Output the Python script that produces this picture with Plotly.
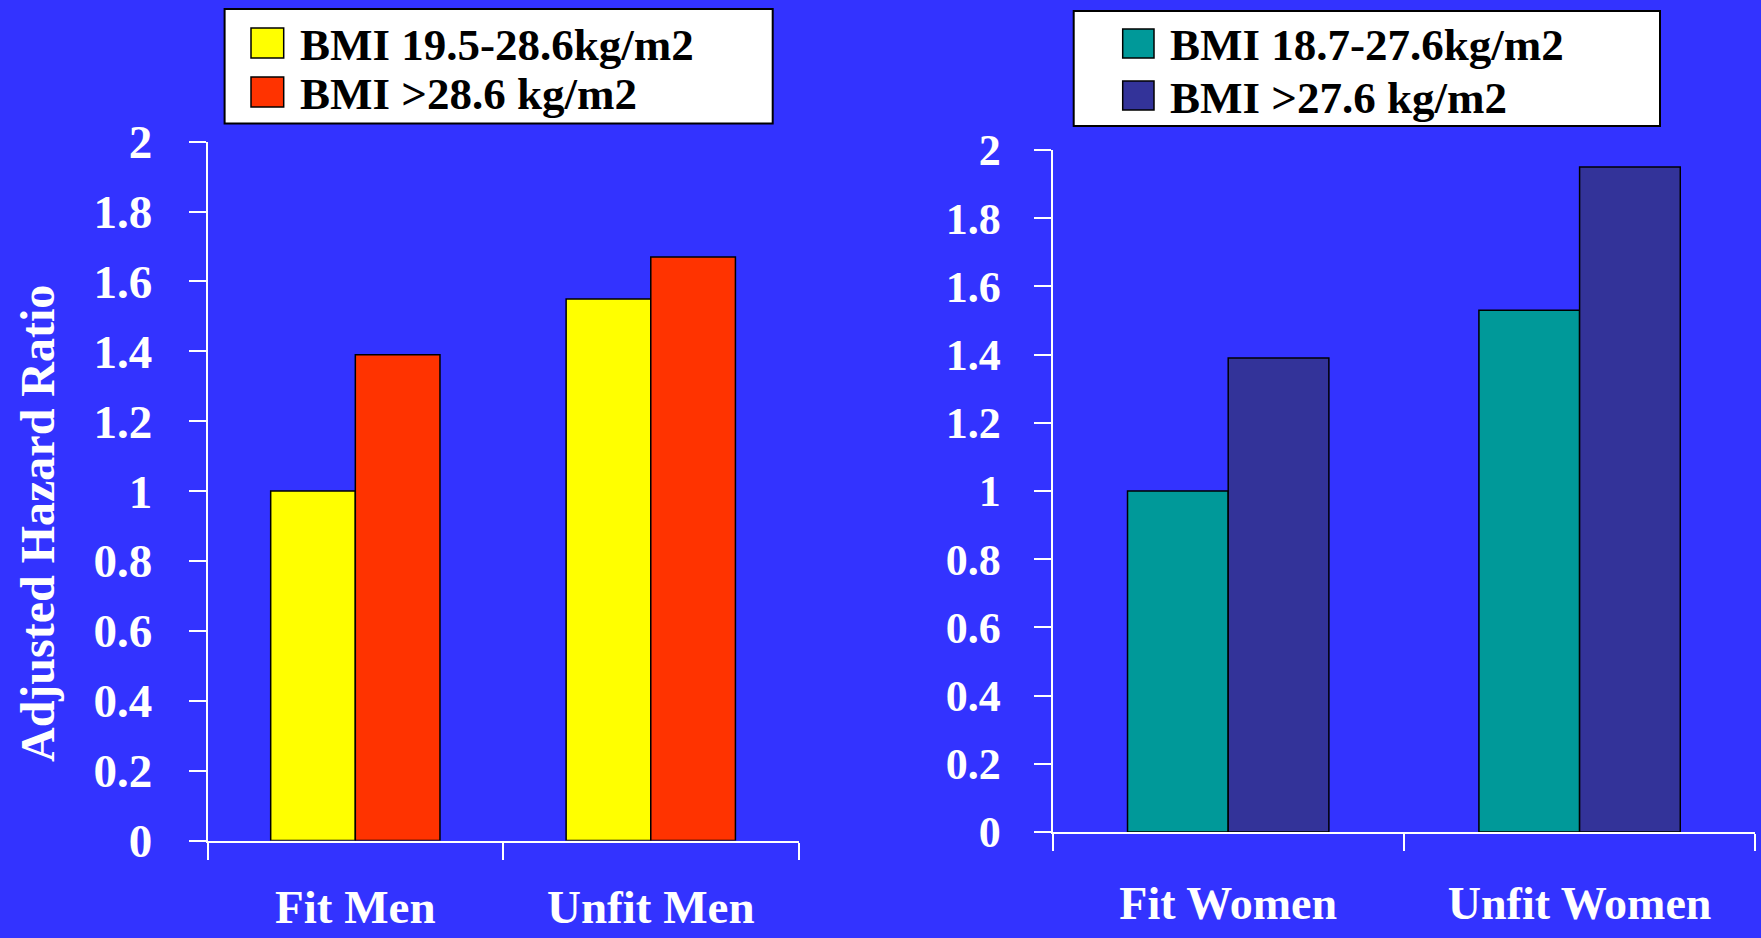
import plotly.graph_objects as go

# ---------------- data ----------------
men_categories = ["Fit Men", "Unfit Men"]
women_categories = ["Fit Women", "Unfit Women"]

men_series_names = ["BMI 19.5-28.6kg/m2", "BMI >28.6 kg/m2"]
women_series_names = ["BMI 18.7-27.6kg/m2", "BMI >27.6 kg/m2"]

men_normal_bmi = [1.00, 1.55]
men_high_bmi = [1.39, 1.67]
women_normal_bmi = [1.00, 1.53]
women_high_bmi = [1.39, 1.95]

y_tick_values = [0, 0.2, 0.4, 0.6, 0.8, 1.0, 1.2, 1.4, 1.6, 1.8, 2.0]
y_tick_labels = ["0", "0.2", "0.4", "0.6", "0.8", "1", "1.2", "1.4", "1.6", "1.8", "2"]
y_axis_title = "Adjusted Hazard Ratio"

# ---------------- styling ----------------
W, H = 1761, 938
BG = "#3333FF"
COL_MEN = ["#FFFF00", "#FF3300"]
COL_WOMEN = ["#009999", "#333399"]
FONT = "Liberation Serif, Times New Roman, serif"


def px(x):
    return x / W


def py(y):
    return 1 - y / H


def tfont(size):
    return dict(family=FONT, size=size, color="white", weight="bold")


fig = go.Figure()

for vals, name, col in zip([men_normal_bmi, men_high_bmi], men_series_names, COL_MEN):
    fig.add_trace(go.Bar(x=men_categories, y=vals, name=name, xaxis="x", yaxis="y",
                         marker=dict(color=col, line=dict(color="black", width=1.5)),
                         showlegend=False))
for vals, name, col in zip([women_normal_bmi, women_high_bmi], women_series_names, COL_WOMEN):
    fig.add_trace(go.Bar(x=women_categories, y=vals, name=name, xaxis="x2", yaxis="y2",
                         marker=dict(color=col, line=dict(color="black", width=1.5)),
                         showlegend=False))

xaxis_common = dict(showline=True, linecolor="white", linewidth=2, ticks="outside",
                    tickson="boundaries", ticklen=17, tickwidth=2, tickcolor="white",
                    showgrid=False, zeroline=False, automargin=False, fixedrange=True)
yaxis_common = dict(range=[0, 2], tickvals=y_tick_values, ticktext=y_tick_labels,
                    showline=True, linecolor="white", linewidth=2, ticks="outside",
                    ticklen=17, tickwidth=2, tickcolor="white",
                    showgrid=False, zeroline=False, automargin=False, fixedrange=True)

fig.update_layout(
    width=W, height=H,
    margin=dict(l=0, r=0, t=0, b=0, autoexpand=False),
    paper_bgcolor=BG, plot_bgcolor=BG,
    barmode="group", bargap=0.427, bargroupgap=0,
    xaxis=dict(domain=[px(207.6), px(798.5)], anchor="y", tickfont=tfont(47),
               ticklabelstandoff=24, **xaxis_common),
    yaxis=dict(domain=[py(840.5), py(141.7)], anchor="x", tickfont=tfont(47),
               ticklabelstandoff=27, **yaxis_common),
    xaxis2=dict(domain=[px(1052.5), px(1755.3)], anchor="y2", tickfont=tfont(46),
                ticklabelstandoff=30, **xaxis_common),
    yaxis2=dict(domain=[py(832), py(150)], anchor="x2", tickfont=tfont(44),
                ticklabelstandoff=24, **yaxis_common),
    showlegend=False,
)

shapes = []
annotations = []

# y-axis title
annotations.append(dict(text=y_axis_title, xref="paper", yref="paper", x=px(37), y=py(524),
                        textangle=-90, showarrow=False, xanchor="center", yanchor="middle",
                        font=dict(family=FONT, size=48, color="white", weight="bold")))

# legend boxes (drawn manually)
legends = [
    dict(box=(224.6, 9, 772.7, 123.5), mx=(251, 283.7), rows=[(28, 58), (77, 107)],
         tx=297.8, names=men_series_names, cols=COL_MEN),
    dict(box=(1073.7, 11, 1660, 126), mx=(1122.7, 1154), rows=[(29, 58), (81, 110)],
         tx=1167.6, names=women_series_names, cols=COL_WOMEN),
]
for lg in legends:
    x0, y0, x1, y1 = lg["box"]
    shapes.append(dict(type="rect", xref="paper", yref="paper", x0=px(x0), x1=px(x1),
                       y0=py(y1), y1=py(y0), fillcolor="white",
                       line=dict(color="black", width=2)))
    for (ry0, ry1), name, col in zip(lg["rows"], lg["names"], lg["cols"]):
        shapes.append(dict(type="rect", xref="paper", yref="paper",
                           x0=px(lg["mx"][0]), x1=px(lg["mx"][1]), y0=py(ry1), y1=py(ry0),
                           fillcolor=col, line=dict(color="black", width=1.5)))
        annotations.append(dict(text=name, xref="paper", yref="paper", x=px(lg["tx"]),
                                y=py((ry0 + ry1) / 2 + 2), xanchor="left", yanchor="middle",
                                showarrow=False,
                                font=dict(family=FONT, size=45, color="black", weight="bold")))

fig.update_layout(shapes=shapes, annotations=annotations)

fig.write_html("out.html", config=dict(displayModeBar=False),
               post_script="document.body.style.margin='0px';document.body.style.overflow='hidden';")
